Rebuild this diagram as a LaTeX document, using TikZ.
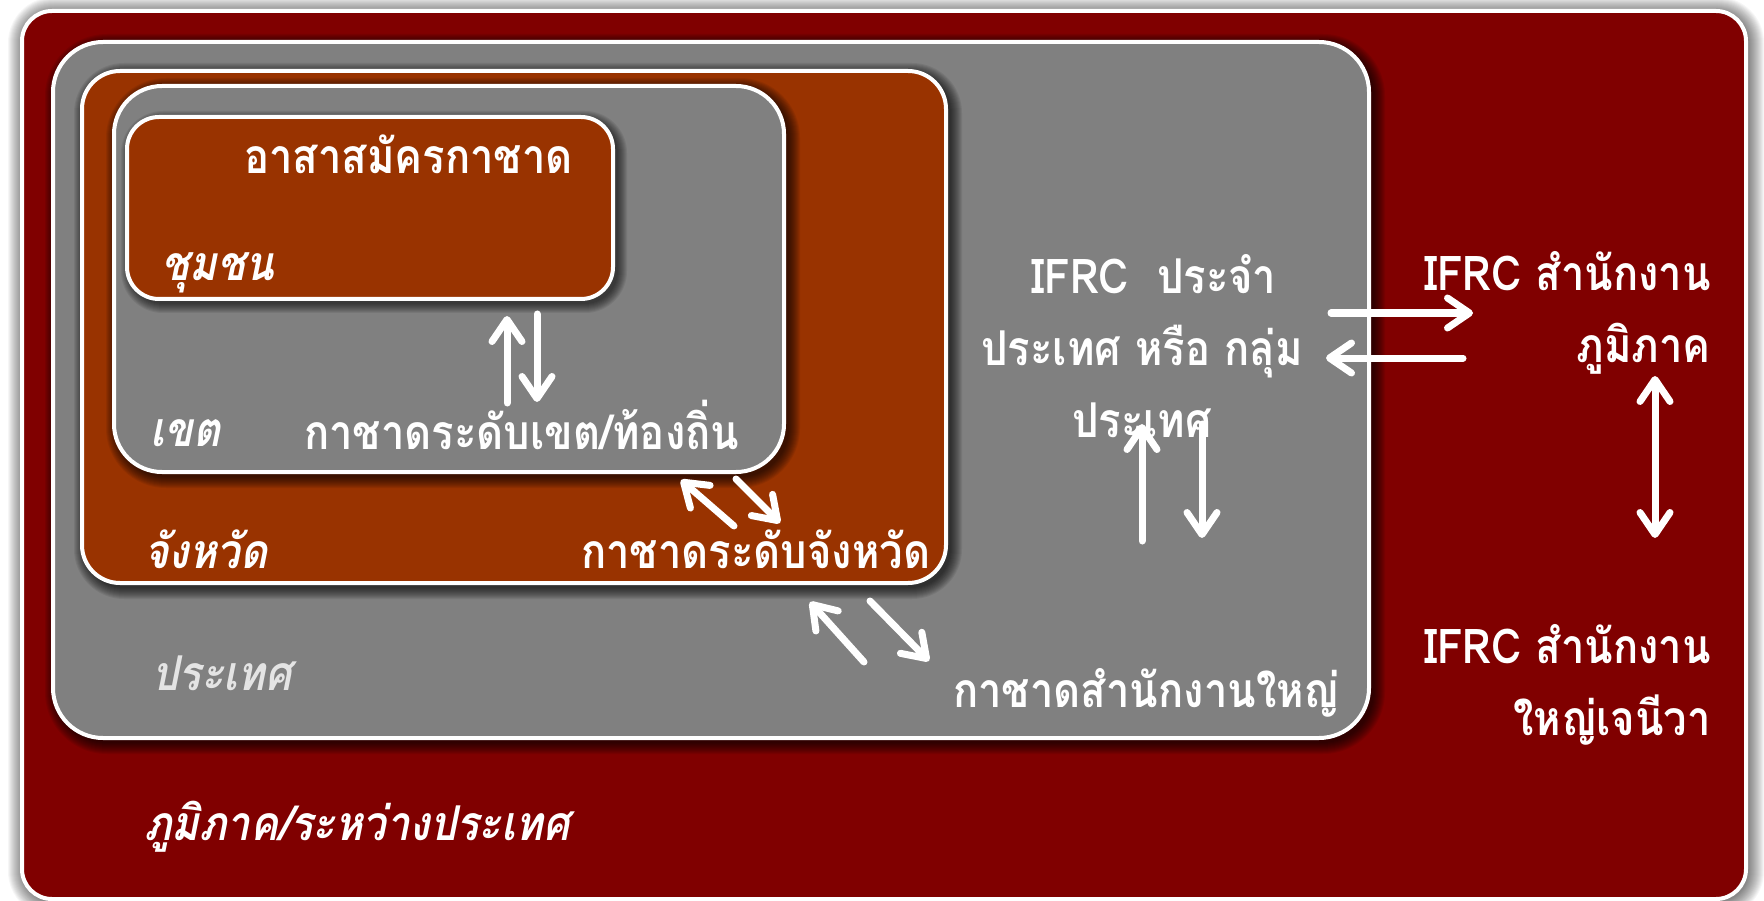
\documentclass[tikz,border=0pt]{standalone}
\usepackage{fontspec}
\usetikzlibrary{arrows.meta}
\newfontfamily\thai[Script=Thai,FakeStretch=0.87]{Loma}
\newfontfamily\thaiit[Script=Thai,FakeSlant=0.2,FakeStretch=0.87]{Loma}
\definecolor{maroonbg}{HTML}{800000}
\definecolor{brownbox}{HTML}{993300}
\definecolor{graybox}{HTML}{808080}
\definecolor{paleg}{HTML}{E4E4E4}
\newcommand{\shadowlayers}[8]{%
  \foreach \k in {1,...,#7}{%
    \pgfmathsetmacro\rr{#5+\k}%
    \fill[black,opacity=#8,rounded corners=\rr pt] ({#1-\k+#6},{#2-\k+#6}) rectangle ({#3+\k+#6},{#4+\k+#6});
  }}
\begin{document}
\begin{tikzpicture}[x=1pt,y=-1pt,
  boxst/.style={draw=white,line width=4pt,inner sep=0pt,outer sep=0pt},
  lbl/.style={text=white,inner sep=0pt,font=\thai\bfseries\fontsize{48}{72}\selectfont},
  ilbl/.style={text=white,inner sep=0pt,font=\thaiit\bfseries\fontsize{48}{72}\selectfont},
  arr/.style={draw=white,line width=7pt,line cap=round,-{Straight Barb[round,length=22pt,width=30pt]}},
  darr/.style={draw=white,line width=7pt,line cap=round,{Straight Barb[round,length=22pt,width=30pt]}-{Straight Barb[round,length=22pt,width=30pt]}}]
\useasboundingbox (0,0) rectangle (1764,901);
\fill[white] (0,0) rectangle (1764,901);
% outer glow
\shadowlayers{22}{11}{1746}{899}{30}{2}{16}{0.035}
\node[boxst,fill=maroonbg,rounded corners=30pt,minimum width=1724pt,minimum height=888pt] (world) at (884,455) {};
% country
\shadowlayers{53}{42}{1369}{738}{50}{4}{12}{0.07}
\node[boxst,fill=graybox,rounded corners=50pt,minimum width=1316pt,minimum height=696pt] (country) at (711,390) {};
% province
\shadowlayers{82}{71}{946}{583}{38}{4}{12}{0.07}
\node[boxst,fill=brownbox,rounded corners=38pt,minimum width=864pt,minimum height=512pt] (province) at (514,327) {};
% district
\shadowlayers{114}{86}{784}{472}{48}{4}{12}{0.07}
\node[boxst,fill=graybox,rounded corners=48pt,minimum width=670pt,minimum height=386pt] (district) at (449,279) {};
% community
\shadowlayers{127}{117}{613}{299}{32}{4}{10}{0.07}
\node[boxst,fill=brownbox,rounded corners=32pt,minimum width=486pt,minimum height=182pt] (community) at (370,208) {};

% texts
\node[lbl,anchor=base west] (t1) at (244,174) {อาสาสมัครกาชาด};
\node[ilbl,anchor=base west] (t2) at (161,281) {ชุมชน};
\node[ilbl,anchor=base west] (t3) at (150,446) {เขต};
\node[lbl,anchor=base west] (t4) at (304,449) {กาชาดระดับเขต/ท้องถิ่น};
\node[ilbl,anchor=base west] (t5) at (144,568) {จังหวัด};
\node[lbl,anchor=base west] (t6) at (581,568) {กาชาดระดับจังหวัด};
\node[ilbl,anchor=base west,text=paleg] (t7) at (152,690) {ประเทศ};
\node[lbl,anchor=base west] (t8) at (953,707) {กาชาดสำนักงานใหญ่};
\node[lbl,anchor=base,align=center] (t9) at (1142,437) {\hspace*{24pt}IFRC\ \ ประจำ\\ประเทศ หรือ กลุ่ม\\ประเทศ};
\node[lbl,anchor=base east,align=right] (t10) at (1711,362) {IFRC สำนักงาน\\ภูมิภาค};
\node[lbl,anchor=base east,align=right] (t11) at (1711,735) {IFRC สำนักงาน\\ใหญ่เจนีวา};
\node[ilbl,anchor=base west] (t12) at (144,840) {ภูมิภาค/ระหว่างประเทศ};

% arrow end points
\coordinate (a1s) at (507,403); \coordinate (a1e) at (507,316);
\coordinate (a2s) at (537,314); \coordinate (a2e) at (537,402);
\coordinate (a3s) at (734,526); \coordinate (a3e) at (681,480);
\coordinate (a4s) at (736,479); \coordinate (a4e) at (780,523);
\coordinate (a5s) at (864,662); \coordinate (a5e) at (810,602);
\coordinate (a6s) at (870,601); \coordinate (a6e) at (929,661);
\coordinate (a7s) at (1142,541); \coordinate (a7e) at (1142,424);
\coordinate (a8s) at (1202,424); \coordinate (a8e) at (1202,538);
\coordinate (a9s) at (1331,313); \coordinate (a9e) at (1473,313);
\coordinate (a10s) at (1463,358); \coordinate (a10e) at (1326,358);
\coordinate (a11s) at (1655,376); \coordinate (a11e) at (1655,538);

\draw[arr] (a1s) -- (a1e);
\draw[arr] (a2s) -- (a2e);
\draw[arr] (a3s) -- (a3e);
\draw[arr] (a4s) -- (a4e);
\draw[arr] (a5s) -- (a5e);
\draw[arr] (a6s) -- (a6e);
\draw[arr] (a7s) -- (a7e);
\draw[arr] (a8s) -- (a8e);
\draw[arr] (a9s) -- (a9e);
\draw[arr] (a10s) -- (a10e);
\draw[darr] (a11s) -- (a11e);
\end{tikzpicture}
\end{document}
